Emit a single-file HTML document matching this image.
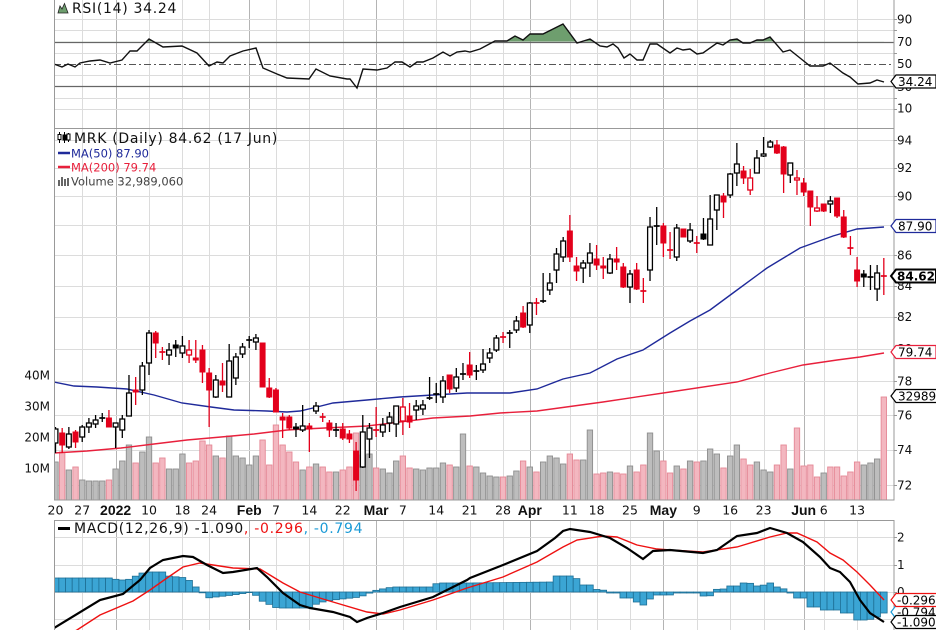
<!DOCTYPE html>
<html><head><meta charset="utf-8">
<style>
html,body{margin:0;padding:0;background:#fff;}
svg{display:block;font-family:"DejaVu Sans","Liberation Sans",sans-serif;}
.lg{font-size:14px;letter-spacing:0.7px;}
.sm{font-size:11.5px;}
.ax{font-size:12px;fill:#111;}
.xl{font-size:12.5px;fill:#111;text-anchor:middle;}
.xb{font-family:"Liberation Sans",sans-serif;font-weight:bold;font-size:14px;fill:#111;text-anchor:middle;}
.bx{font-size:12px;fill:#000;}
</style></head><body>
<svg id="c" width="936" height="630" viewBox="0 0 936 630" xmlns="http://www.w3.org/2000/svg">
<defs>
<clipPath id="cr"><rect x="54" y="0" width="840" height="128"/></clipPath>
<clipPath id="cm"><rect x="54" y="128" width="840" height="372"/></clipPath>
<clipPath id="cd"><rect x="54" y="520" width="840" height="112"/></clipPath>
<clipPath id="cgr"><rect x="54" y="0" width="840" height="41.6"/></clipPath>
</defs>
<rect x="0" y="0" width="936" height="630" fill="#fff"/>
<g id="grid"></g>
<g id="vol" clip-path="url(#cm)"></g>
<g id="ma" clip-path="url(#cm)" fill="none"></g>
<g id="cdl" clip-path="url(#cm)"></g>
<g id="rsi" clip-path="url(#cr)"></g>
<g id="macd" clip-path="url(#cd)"></g>
<g id="brd" fill="none" stroke="#999" stroke-width="1">
<rect x="54.5" y="-2" width="839.5" height="130.5"/>
<rect x="54.5" y="128.5" width="839.5" height="371.5"/>
<rect x="54.5" y="520.5" width="839.5" height="112"/>
</g>
<g id="ticks" stroke="#999" stroke-width="1"></g>

<!-- RSI legend -->
<polygon points="58,13 60,6 62,9 64.5,3.5 68,13" fill="#6e9e6e" stroke="#222" stroke-width="0.8"/>
<text class="lg" x="72" y="13" fill="#111">RSI(14) 34.24</text>

<!-- Main legend -->
<g stroke="#000" stroke-width="1">
<line x1="59.5" y1="132" x2="59.5" y2="143"/><rect x="58" y="134.5" width="3" height="5" fill="#fff"/>
<line x1="64.5" y1="132" x2="64.5" y2="143"/><rect x="63" y="135" width="3" height="5" fill="#000"/>
<line x1="68.5" y1="133" x2="68.5" y2="142"/><rect x="67" y="134" width="3" height="6" fill="#fff"/>
</g>
<text class="lg" x="74" y="143" fill="#111">MRK (Daily) 84.62 (17 Jun)</text>
<line x1="58" y1="153" x2="70" y2="153" stroke="#1f2a9a" stroke-width="2.5"/>
<text class="sm" x="71" y="157.5" fill="#1f2a9a">MA(50) 87.90</text>
<line x1="58" y1="167" x2="70" y2="167" stroke="#e8203c" stroke-width="2.5"/>
<text class="sm" x="71" y="171.5" fill="#e8203c">MA(200) 79.74</text>
<g fill="#666"><rect x="58" y="180" width="2" height="6"/><rect x="61" y="177" width="2" height="9"/><rect x="64" y="179" width="2" height="7"/><rect x="67" y="178" width="2" height="8"/></g>
<text class="sm" x="71" y="185.5" fill="#444">Volume 32,989,060</text>

<!-- MACD legend -->
<line x1="58" y1="528.5" x2="70" y2="528.5" stroke="#000" stroke-width="3"/>
<text class="lg" x="74" y="533" fill="#111">MACD(12,26,9) -1.090<tspan fill="#ee1111">, -0.296</tspan><tspan fill="#1a9ad6">, -0.794</tspan></text>

<!-- Volume axis labels -->
<g class="ax" text-anchor="end">
<text x="50" y="379.5">40M</text>
<text x="50" y="410.5">30M</text>
<text x="50" y="441.5">20M</text>
<text x="50" y="472.5">10M</text>
</g>

<!-- RSI axis -->
<g class="ax">
<text x="897" y="23.5">90</text>
<text x="897" y="46">70</text>
<text x="897" y="68">50</text>
<text x="897" y="91">30</text>
<text x="897" y="112.5">10</text>
</g>
<!-- Main axis -->
<g class="ax">
<text x="897" y="144.5">94</text>
<text x="897" y="172">92</text>
<text x="897" y="200.5">90</text>
<text x="897" y="229.5">88</text>
<text x="897" y="259.3">86</text>
<text x="897" y="289.8">84</text>
<text x="897" y="321">82</text>
<text x="897" y="353">80</text>
<text x="897" y="385.7">78</text>
<text x="897" y="419.3">76</text>
<text x="897" y="453.8">74</text>
<text x="897" y="489.3">72</text>
</g>
<!-- MACD axis -->
<g class="ax">
<text x="897" y="541.5">2</text>
<text x="897" y="568.8">1</text>
<text x="897" y="596">0</text>
</g>

<!-- X axis labels -->
<g id="xl"></g>

<!-- value boxes -->
<g stroke-width="1.2">
<polygon points="891,81.5 896,75 936,75 936,88 896,88" fill="#fff" stroke="#000"/>
<text class="bx" x="898" y="86">34.24</text>

<polygon points="891,226 896,219.5 936,219.5 936,232.5 896,232.5" fill="#fff" stroke="#1f2a9a"/>
<text class="bx" x="898" y="230.5">87.90</text>

<polygon points="891,276 896,269.5 936,269.5 936,282.5 896,282.5" fill="#fff" stroke="#000" stroke-width="2"/>
<text class="bx" x="897" y="280.5" font-weight="bold">84.62</text>

<polygon points="891,352 896,345.5 936,345.5 936,358.5 896,358.5" fill="#fff" stroke="#e8203c"/>
<text class="bx" x="898" y="356.5">79.74</text>

<polygon points="891,396 896,389.5 938,389.5 938,402.5 896,402.5" fill="#fff" stroke="#000"/>
<text class="bx" x="898" y="400.5">32989</text>

<polygon points="891,612 896,605.5 938,605.5 938,618.5 896,618.5" fill="#fff" stroke="#1a9ad6"/>
<text class="bx" x="897" y="616.5">-0.794</text>
<polygon points="891,600 896,593.5 938,593.5 938,606.5 896,606.5" fill="#fff" stroke="#ee1111"/>
<text class="bx" x="897" y="604.5">-0.296</text>
<polygon points="891,622 896,615.5 938,615.5 938,628.5 896,628.5" fill="#fff" stroke="#000"/>
<text class="bx" x="897" y="626.5">-1.090</text>
</g>
</svg>

<script>
(function(){
const NS='http://www.w3.org/2000/svg';
const G=id=>document.getElementById(id);
function el(tag,a,p){const e=document.createElementNS(NS,tag);for(const k in a)e.setAttribute(k,a[k]);p.appendChild(e);return e;}
function pts(a){return a.map(p=>p[0]+','+p[1]).join(' ');}
function interp(a,x){if(x<=a[0][0])return a[0][1];for(let k=1;k<a.length;k++){if(x<=a[k][0]){const x0=a[k-1][0],y0=a[k-1][1],x1=a[k][0],y1=a[k][1];return x1==x0?y1:y0+(y1-y0)*(x-x0)/(x1-x0);}}return a[a.length-1][1];}
const X=i=>55.5+6.68*i;
const PY=p=>485-1294*Math.log(p/72);
const RY=v=>64-(v-50)*1.12;
const RED='#e3001b';

/* grid */
const grid=G('grid');
const weeks=[4,14,19,23,33,38,43,52,57,62,67,77,81,86,96,101,106,115,120], months=[9,29,48,71,91,112];
[[0,128],[128,500],[520,632]].forEach(([a,b])=>{
 weeks.forEach(i=>{const x=Math.round(X(i))+0.5;el('line',{x1:x,x2:x,y1:a,y2:b,stroke:'#dcdcdc','stroke-width':1},grid);});
 months.forEach(i=>{const x=Math.round(X(i))+0.5;el('line',{x1:x,x2:x,y1:a,y2:b,stroke:'#b4b4b4','stroke-width':1},grid);});
});
const tk=G('ticks');
for(let p=72;p<=94;p+=2){const y=Math.round(PY(p))+0.5;el('line',{x1:54,x2:894,y1:y,y2:y,stroke:'#dcdcdc'},grid);el('line',{x1:894,x2:897,y1:y,y2:y},tk);}
[10,20,40,60,80,90].forEach(v=>{const y=Math.round(RY(v))+0.5;el('line',{x1:54,x2:894,y1:y,y2:y,stroke:'#dcdcdc'},grid);el('line',{x1:894,x2:897,y1:y,y2:y},tk);});
[30,70].forEach(v=>{const y=Math.round(RY(v))+0.5;el('line',{x1:54,x2:894,y1:y,y2:y,stroke:'#666','stroke-width':1.2},grid);});
{const y=Math.round(RY(50))+0.5;el('line',{x1:54,x2:894,y1:y,y2:y,stroke:'#555','stroke-width':1,'stroke-dasharray':'7,3,2,3'},grid);}
[2,1,0,-1].forEach(v=>{const y=Math.round(592-27.3*v)+0.5;el('line',{x1:54,x2:894,y1:y,y2:y,stroke:'#dcdcdc'},grid);el('line',{x1:894,x2:897,y1:y,y2:y},tk);});

/* x labels */
const xl=G('xl');
const reg=[[0,'20'],[4,'27'],[14,'10'],[19,'18'],[23,'24'],[33,'7'],[38,'14'],[43,'22'],[52,'7'],[57,'14'],[62,'21'],[67,'28'],[77,'11'],[81,'18'],[86,'25'],[96,'9'],[101,'16'],[106,'23'],[115,'6'],[120,'13']];
reg.forEach(([i,t])=>{const e=el('text',{x:X(i),y:514.5,'class':'xl'},xl);e.textContent=t;});
[[9,'2022'],[29,'Feb'],[48,'Mar'],[71,'Apr'],[91,'May'],[112,'Jun']].forEach(([i,t])=>{const e=el('text',{x:X(i),y:515,'class':'xb'},xl);e.textContent=t;});

/* volume */
const VT=[462,452,470,467,480,481,481,481,480,469,461,445,463,452,437,463,458,469,469,454,463,461,441,445,456,458,436,456,458,465,456,440,465,425,445,452,462,470,467,464,467,472,472,470,467,433,455,454,468,469,473,461,456,468,469,470,468,468,463,465,467,434,466,467,473,476,477,477,476,471,461,467,472,462,456,458,464,454,460,460,430,474,473,472,473,474,466,472,465,433,451,461,473,466,469,461,462,461,449,454,468,456,445,459,465,462,470,472,465,445,469,428,466,465,477,473,467,467,476,472,462,465,463,459,397];
const VC="gpgpggggpgggpggppgggppppgpgggggppppppgpgppgpppggpgggppgggggpggpggggpggpgpggggppggppgppgppggppgpgpgggpggppgggppgppppgpppppgggp";
const vol=G('vol');
VT.forEach((t,i)=>{const x=X(i);const g=VC[i]=='g';el('rect',{x:x-2.7,y:t,width:5.4,height:500-t,fill:g?'#bdbdbd':'#f3b7c0',stroke:g?'#8e8e8e':'#e58896','stroke-width':0.9},vol);});

/* moving averages */
const ma=G('ma');
const MA50=[[54,382],[74,386],[97,387],[127,389],[154,395],[182,403],[211,407],[234,410],[267,411],[287,412],[300,411],[313,408],[333,403],[367,400],[400,397],[433,395],[467,393],[510,393],[537,389],[563,379],[590,373],[617,359],[643,350],[670,333],[690,321],[710,310],[733,293],[767,268],[800,248],[833,236],[857,229],[884,227]];
const MA200=[[54,453],[87,451],[121,448],[154,444],[187,440],[221,437],[254,434],[287,430],[304,429],[367,426],[433,418],[470,416],[500,413],[537,411],[603,402],[670,392],[737,382],[770,373],[803,365],[837,360],[860,357],[884,353]];
el('polyline',{points:pts(MA200),stroke:'#e8203c','stroke-width':1.4},ma);
el('polyline',{points:pts(MA50),stroke:'#1f2a9a','stroke-width':1.4},ma);

/* candles */
const C=[
['w',429,443,427,453],['r',433,445,428,453],['w',434,447,427,449],['r',432,442,430,448],['w',427,437,425,442],
['w',423,427,418,433],['w',420,424,415,428],['b',418,418,413,422],['r',418,427,410,427],['w',423,427,423,448],
['w',419,430,415,438],['w',393,416,375,416],['r',390,392,377,405],['w',366,390,362,395],['w',333,363,330,375],
['r',333,343,331,358],['r',352,352,347,360],['w',350,355,343,365],['b',345,348,340,357],['w',346,353,336,358],
['rh',350,355,340,363],['r',358,360,340,363],['r',350,372,345,383],['r',373,390,368,427],['w',380,397,375,398],
['r',381,385,363,392],['w',361,397,344,397],['w',357,378,353,385],['w',347,354,343,358],['b',340,340,336,348],
['w',338,342,334,350],['r',343,387,343,387],['r',388,397,378,398],['r',390,412,388,412],['r',417,420,413,438],
['r',417,428,415,430],['b',427,429,423,437],['w',426,430,405,432],['r',426,429,423,452],['w',406,411,402,414],
['r',417,417,413,422],['r',423,430,420,437],['b',430,430,423,437],['r',429,438,423,440],['r',434,439,430,443],
['r',451,480,442,491],['w',432,467,415,468],['w',428,439,423,458],['r',430,430,407,437],['w',425,432,418,437],
['w',417,423,412,432],['w',406,424,406,437],['rh',407,421,398,435],['r',416,422,403,428],['w',406,410,400,420],
['w',405,409,400,415],['b',398,398,377,400],['b',394,394,383,403],['w',381,397,376,403],['r',375,389,375,393],
['w',377,388,368,392],['b',374,374,363,380],['r',365,375,352,378],['b',371,371,365,380],['w',364,370,349,373],
['w',353,358,348,363],['w',338,350,335,352],['r',337,337,332,343],['b',333,333,330,348],['w',321,330,316,333],
['r',313,327,306,328],['w',303,325,302,333],['r',303,303,298,315],['b',301,301,273,303],['w',283,290,273,295],
['w',254,270,248,283],['w',241,257,237,262],['r',231,257,215,262],['r',266,271,257,281],['w',263,268,260,283],
['w',253,263,243,277],['r',259,265,245,270],['r',266,268,257,279],['w',259,273,254,274],['r',259,262,247,270],
['r',267,287,263,288],['w',274,287,270,303],['r',270,289,263,290],['r',291,291,278,303],['w',227,270,217,281],
['b',226,226,207,245],['r',226,243,223,257],['r',250,250,232,259],['w',228,257,224,261],['r',229,237,229,237],
['w',230,241,223,243],['r',243,243,236,253],['b',234,239,218,240],['w',219,245,195,245],['w',195,210,195,230],
['r',196,202,193,218],['w',174,195,173,198],['w',164,173,143,186],['r',171,178,166,184],['rh',178,190,169,195],
['w',158,173,150,173],['w',154,156,137,157],['w',142,147,140,148],['r',145,153,140,154],['r',147,174,146,193],
['w',163,175,163,183],['rh',178,180,170,195],['r',183,192,178,196],['r',191,207,191,226],['rh',208,211,196,212],
['r',204,211,204,212],['w',201,204,196,213],['r',198,216,198,218],['r',217,237,210,238],['r',248,248,236,255],
['r',270,281,257,287],['b',274,277,270,287],['b',277,277,265,290],['w',273,289,265,301],['r',276,276,258,295]
];
const cg=G('cdl');
C.forEach((c,i)=>{const t=c[0],a=c[1],b=c[2],h=c[3],l=c[4];const x=X(i);const col=(t=='r'||t=='rh')?RED:'#000';
 el('line',{x1:x,x2:x,y1:h,y2:l,stroke:col,'stroke-width':1.3},cg);
 if(b-a<1.5){el('line',{x1:x-3,x2:x+3,y1:a,y2:a,stroke:col,'stroke-width':1.7},cg);}
 else if(t=='w'||t=='rh'){el('rect',{x:x-2.4,y:a,width:4.8,height:b-a,fill:'#fff',stroke:col,'stroke-width':1.3},cg);}
 else {el('rect',{x:x-3,y:a-0.5,width:6,height:b-a+1,fill:col},cg);}
});

/* RSI */
const R=[[54,64],[62,67],[68,64],[75,67],[80,63],[90,61],[100,60],[110,63],[122,60],[130,51],[137,51],[149,39],[163,47],[182,46],[197,53],[209,66],[217,62],[223,63],[230,56],[243,51],[256,48],[263,68],[277,74],[287,78],[309,79],[316,69],[330,76],[347,79],[350,79],[357,88],[363,69],[377,70],[387,68],[395,62],[402,62],[410,67],[417,62],[423,62],[433,58],[443,52],[450,56],[457,52],[465,51],
[470,52],[480,49],[495,41],[507,41],[515,36],[523,40],[530,34],[543,34],[563,24],[577,43],[590,39],[600,46],[607,47],[613,44],[618,48],[624,58],[630,54],[637,60],[643,60],[650,44],[657,44],[670,53],[677,48],[683,50],[690,49],[697,54],[703,53],[717,43],[723,45],[730,40],[737,39],[743,43],[750,43],[757,40],[763,40],[770,37],[783,52],[790,50],[800,58],[810,66],[823,66],[830,63],[843,73],[850,77],[858,84],[870,83],[877,80],[884,82]];
const rg=G('rsi');
const fillPts=R.concat([[884,41.6],[54,41.6]]);
el('polygon',{points:pts(fillPts),fill:'#6e9e6e','clip-path':'url(#cgr)'},rg);
el('polyline',{points:pts(R),fill:'none',stroke:'#111','stroke-width':1.4},rg);

/* MACD */
const md=G('macd');
const H=[[55,578],[113,578],[117,580],[127,580],[130,579],[140,574],[145,572],[165,572],[168,576],[187,578],[193,585],[200,590],[207,598],[233,595],[253,592],[260,600],[277,608],[313,608],[317,603],[333,600],[360,597],[377,590],[393,587],[433,587],[437,583],[470,583],[553,582],[555,576],[570,576],[580,580],[583,585],[593,585],[597,590],[603,590],[607,593],[617,593],[619,598],[630,598],[632,602],[640,602],[642,605],[647,605],[649,599],[653,599],[655,595],[670,595],[672,593],[697,593],[699,596],[710,596],[712,593],[715,593],[717,589],[727,589],[729,586],[737,586],[739,583],[750,583],[752,586],[763,586],[765,583],[773,583],[775,587],[783,587],[785,593],[793,593],[795,598],[807,598],[809,607],[820,607],[822,610],[840,610],[842,613],[853,613],[855,620],[870,620],[872,617],[880,617],[882,613],[890,613]];
for(let i=0;i<125;i++){const x=X(i);const hy=interp(H,x);const y0=Math.min(592,hy),y1=Math.max(592,hy);
 el('rect',{x:x-3.34,y:y0,width:6.68,height:Math.max(0.6,y1-y0),fill:'#3ba5d4',stroke:'#1e6f95','stroke-width':0.8},md);}
const SIG=[[54,641],[77,630],[100,615],[133,601],[150,590],[167,578],[183,567],[200,563],[233,568],[260,569],[283,583],[300,592],[333,602],[367,612],[383,614],[400,610],[433,600],[467,588],[503,577],[537,562],[563,547],[577,540],[603,536],[617,537],[637,545],[657,549],[670,550],[703,552],[737,547],[770,537],[787,533],[797,533],[817,542],[830,553],[843,560],[857,572],[870,585],[884,600]];
const MAC=[[54,628],[100,600],[123,594],[140,580],[150,568],[163,560],[183,556],[193,557],[207,565],[223,573],[233,572],[257,568],[267,577],[283,593],[300,605],[310,608],[333,612],[350,617],[357,622],[367,618],[383,613],[400,607],[433,597],[467,580],[470,578],[503,565],[537,551],[555,538],[563,531],[570,529],[590,532],[610,538],[627,548],[643,559],[653,551],[670,550],[703,553],[717,550],[737,536],[757,533],[770,528],[787,533],[803,542],[820,557],[830,568],[840,572],[850,582],[860,600],[870,613],[884,622]];
el('polyline',{points:pts(SIG),fill:'none',stroke:'#ee1111','stroke-width':1.4},md);
el('polyline',{points:pts(MAC),fill:'none',stroke:'#000','stroke-width':2.2},md);
})();
</script>
</body></html>
